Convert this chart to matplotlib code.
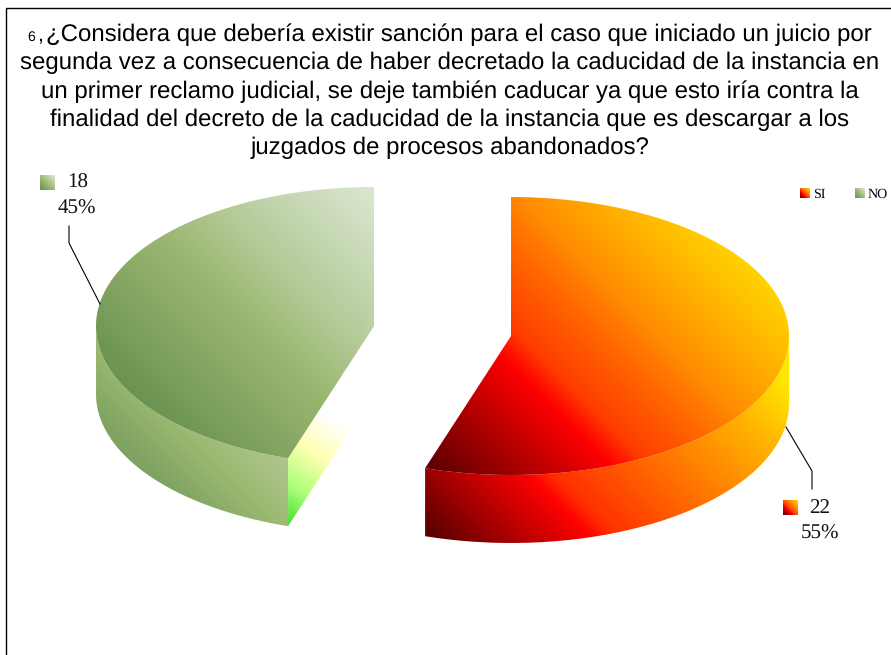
import numpy as np
import matplotlib
matplotlib.use('Agg')
import matplotlib.pyplot as plt
from matplotlib.colors import LinearSegmentedColormap
from matplotlib.patches import PathPatch
from matplotlib.path import Path

plt.rcParams['text.hinting'] = 'no_hinting'
plt.rcParams['text.hinting_factor'] = 1

categories = ['SI', 'NO']
values = [22, 18]
title_lines = [
    '¿Considera que debería existir sanción para el caso que iniciado un juicio por',
    'segunda vez a consecuencia de haber decretado la caducidad de la instancia en',
    'un primer reclamo judicial, se deje también caducar ya que esto iría contra la',
    'finalidad del decreto de la caducidad de la instancia que es descargar a los',
    'juzgados de procesos abandonados?',
]

RX, RY, DEPTH = 278, 139, 68
RED_STOPS = [(0, '#5a0000'), (0.35, '#ff0000'), (0.42, '#ff3c00'), (0.56, '#ff6400'),
             (0.68, '#ff8c00'), (1, '#ffd800')]
RED_SIDE = [(0, '#550000'), (0.32, '#ff0000'), (0.37, '#ff3000'), (0.6, '#ff7000'),
            (0.85, '#ffb400'), (1, '#ffe600')]
GREEN_STOPS = [(0, '#668f4e'), (0.45, '#9cb872'), (0.7, '#bcd0a4'), (1, '#dbe7d0')]
GREEN_SIDE = [(0, '#6f9a54'), (0.33, '#80a362'), (0.68, '#9cba70'), (1, '#afc48e')]
CUT_STOPS = [(0, '#44dd33'), (0.3, '#aaff77'), (0.65, '#ffffb0'), (1, '#ffffff')]


def rim(cx, cy, t1, t2, dy=0):
    t = np.radians(np.linspace(t1, t2, 120))
    return np.column_stack([cx + RX * np.sin(t), cy - RY * np.cos(t) + dy])


def gradient(ax, pts, stops, start, end):
    # fill a polygon with a linear gradient, clipped image
    cmap = LinearSegmentedColormap.from_list('g', stops)
    x0, y0 = pts.min(axis=0)
    x1, y1 = pts.max(axis=0)
    xx, yy = np.meshgrid(np.linspace(x0, x1, 400), np.linspace(y0, y1, 400))
    d = np.array(end, float) - np.array(start, float)
    z = ((xx - start[0]) * d[0] + (yy - start[1]) * d[1]) / (d @ d)
    im = ax.imshow(np.clip(z, 0, 1), cmap=cmap, vmin=0, vmax=1, extent=(x0, x1, y1, y0),
                   aspect='auto', interpolation='bilinear', zorder=2)
    patch = PathPatch(Path(np.vstack([pts, pts[:1]])), transform=ax.transData)
    im.set_clip_path(patch)


def swatch(ax, x, y, size, stops):
    pts = np.array([[x, y], [x + size, y], [x + size, y + size], [x, y + size]], float)
    gradient(ax, pts, stops, (x, y + size), (x + size, y))


fig = plt.figure(figsize=(8.91, 6.55), dpi=100)
ax = fig.add_axes([0, 0, 1, 1])

# frame of the original chart, cut on the right and at the bottom
ax.plot([6, 6, 891], [655, 8, 8], color='black', lw=1.0, zorder=1)

total = sum(values)
si_end = 360 * values[0] / total

# SI slice
cx, cy = 511, 336
top = rim(cx, cy, 0, si_end)
front = rim(cx, cy, 90, si_end)
side = np.vstack([front, rim(cx, cy, si_end, 90, DEPTH)])
gradient(ax, side, RED_SIDE, (426, 537), (683, 280))
gradient(ax, np.vstack([[cx, cy], top]), RED_STOPS, (426, 468), (695, 199))

# NO slice
cx, cy = 374, 326
top = rim(cx, cy, si_end, 360)
front = rim(cx, cy, si_end, 270)
side = np.vstack([front, rim(cx, cy, 270, si_end, DEPTH)])
gradient(ax, side, GREEN_SIDE, (110, 500), (216, 394))
tip = top[0]
cut = np.array([tip, [cx, cy], [cx, cy + DEPTH], tip + [0, DEPTH]])
gradient(ax, cut, CUT_STOPS, (288, 525), (350, 430))
gradient(ax, np.vstack([[cx, cy], top]), GREEN_STOPS, (140, 420), (373, 187))

# title
ax.text(872, 35, title_lines[0], ha='right', va='center', fontsize=17.42,
        family='Liberation Sans', color='black', zorder=3)
for i, line in enumerate(title_lines[1:], start=1):
    ax.text(450, 35 + i * 28.3, line, ha='center', va='center', fontsize=17.12,
            family='Liberation Sans', color='black', zorder=3)
ax.text(35, 37, '6', ha='right', va='center', fontsize=10, family='Liberation Sans', zorder=3)
ax.text(37, 35, ',', ha='left', va='center', fontsize=15, family='Liberation Sans', zorder=3)

# data labels
serif = dict(family='Liberation Serif', color='#111111', ha='center', va='center', zorder=3)
ax.text(78, 183, str(values[1]), fontsize=15, **serif)
ax.text(77, 209, f'{values[1] / total:.0%}', fontsize=15, **serif)
ax.text(820, 508, str(values[0]), fontsize=15, **serif)
ax.text(820, 534, f'{values[0] / total:.0%}', fontsize=15, **serif)
swatch(ax, 40, 175, 15, GREEN_STOPS)
swatch(ax, 783, 500, 15, RED_STOPS)

# leader lines
ax.plot([69, 69, 100], [226, 243, 304], color='black', lw=0.8, zorder=3)
ax.plot([812, 812, 786], [489, 471, 427], color='black', lw=0.8, zorder=3)

# legend
swatch(ax, 800, 188, 10, RED_STOPS)
swatch(ax, 855, 188, 10, GREEN_STOPS)
ax.text(813, 194, categories[0], fontsize=10, family='Liberation Serif', va='center', zorder=3)
ax.text(868, 194, categories[1], fontsize=10, family='Liberation Serif', va='center', zorder=3)

ax.set_xlim(0, 891)
ax.set_ylim(655, 0)
ax.axis('off')

fig.savefig('out.png', dpi=100)
